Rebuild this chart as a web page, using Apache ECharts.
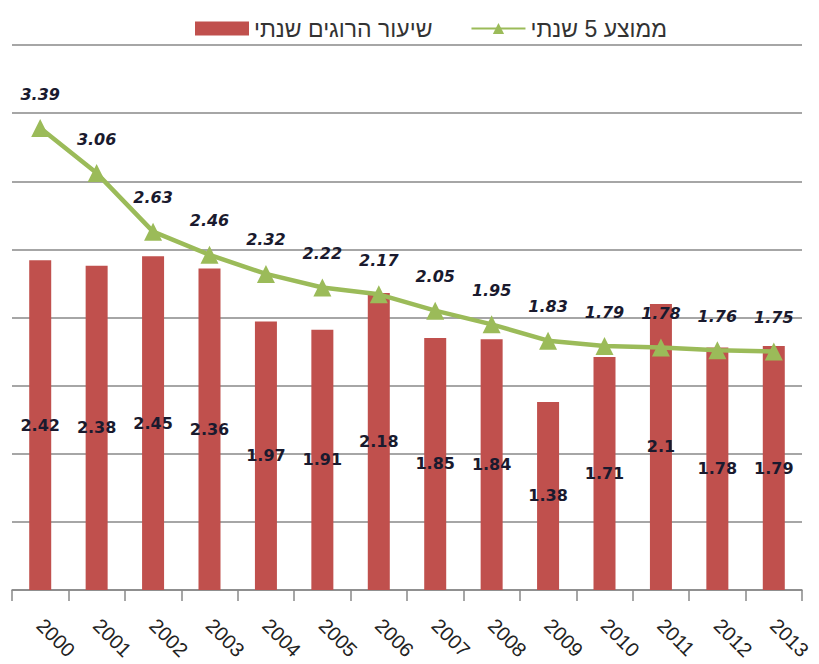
<!DOCTYPE html>
<html>
<head>
<meta charset="utf-8">
<script src="https://cdn.jsdelivr.net/npm/echarts@6/dist/echarts.min.js"></script>
<style>
  html, body { margin: 0; padding: 0; background: #fff; }
  #chart { width: 819px; height: 664px; }
</style>
</head>
<body>
<div id="chart"></div>
<script>
const years = ['2000', '2001', '2002', '2003', '2004', '2005', '2006', '2007', '2008', '2009', '2010', '2011', '2012', '2013']
const annualRate = [2.42, 2.38, 2.45, 2.36, 1.97, 1.91, 2.18, 1.85, 1.84, 1.38, 1.71, 2.1, 1.78, 1.79]
const fiveYearAvg = [3.39, 3.06, 2.63, 2.46, 2.32, 2.22, 2.17, 2.05, 1.95, 1.83, 1.79, 1.78, 1.76, 1.75]

const BAR_NAME = 'שיעור הרוגים שנתי'
const LINE_NAME = 'ממוצע 5 שנתי'

// svg renderer so the browser lays out the Hebrew text right-to-left
const chart = echarts.init(document.getElementById('chart'), null, { renderer: 'svg' })

chart.setOption({
  animation: false,
  legend: {
    top: 12,
    left: 190,
    itemGap: 38,
    itemWidth: 54,
    itemHeight: 14,
    textStyle: { fontFamily: 'Liberation Sans', fontSize: 23, color: '#333' },
    data: [
      { name: BAR_NAME, icon: 'rect' },
      { name: LINE_NAME },
    ],
  },
  grid: { left: 12, right: 17, top: 45, bottom: 74 },
  xAxis: {
    type: 'category',
    data: years,
    axisLine: { lineStyle: { color: '#888', width: 1.5 } },
    axisTick: { show: true, length: 11, lineStyle: { color: '#888', width: 1.5 } },
    axisLabel: {
      rotate: -45,
      margin: 32,
      fontFamily: 'Liberation Sans',
      fontSize: 20,
      color: '#222',
    },
  },
  yAxis: {
    type: 'value',
    min: 0,
    max: 4,
    interval: 0.5,
    axisLabel: { show: false },
    axisLine: { show: false },
    axisTick: { show: false },
    splitLine: { lineStyle: { color: '#888', width: 1.5 } },
  },
  series: [
    {
      name: BAR_NAME,
      type: 'bar',
      data: annualRate,
      barWidth: 22,
      itemStyle: { color: '#c0504d' },
      label: {
        show: true,
        position: 'inside',
        fontFamily: 'DejaVu Sans',
        fontWeight: 'bold',
        fontSize: 16,
        color: '#1a1a2e',
      },
    },
    {
      name: LINE_NAME,
      type: 'line',
      data: fiveYearAvg,
      symbol: 'triangle',
      symbolSize: 18,
      lineStyle: { color: '#9bbb59', width: 4.5 },
      itemStyle: { color: '#9bbb59' },
      label: {
        show: true,
        position: 'top',
        distance: 17,
        fontFamily: 'DejaVu Sans',
        fontWeight: 'bold',
        fontStyle: 'italic',
        fontSize: 16,
        color: '#1a1a2e',
      },
    },
  ],
})
</script>
</body>
</html>
